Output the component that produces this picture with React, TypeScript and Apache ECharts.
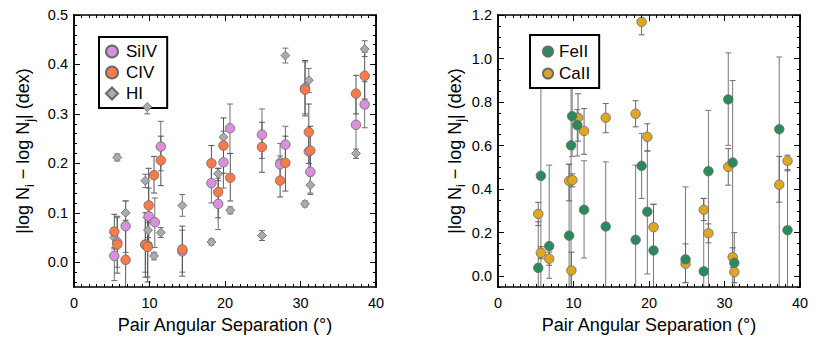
import React, { useEffect, useRef } from "react";
import * as echarts from "echarts";

const FONT = '"Liberation Sans", Arial, Helvetica, sans-serif';

// ---------- tick labels ----------
const leftYTicks = [0, 0.1, 0.2, 0.3, 0.4, 0.5];
const leftYMinor = [-0.04, -0.02, 0.02, 0.04, 0.06, 0.08, 0.12, 0.14, 0.16, 0.18, 0.22, 0.24, 0.26, 0.28, 0.32, 0.34, 0.36, 0.38, 0.42, 0.44, 0.46, 0.48];
const rightYTicks = [0, 0.2, 0.4, 0.6, 0.8, 1.0, 1.2];
const rightYMinor = [-0.05, 0.05, 0.1, 0.15, 0.25, 0.3, 0.35, 0.45, 0.5, 0.55, 0.65, 0.7, 0.75, 0.85, 0.9, 0.95, 1.05, 1.1, 1.15];

// ---------- left panel: SiIV ----------
const siivSep = [5.34, 5.73, 6.84, 9.45, 9.76, 9.89, 10.7, 11.5, 14.35, 18.2, 19.1, 19.8, 20.66, 24.9, 27.3, 28.0, 30.6, 31.1, 31.3, 37.35, 38.5];
const siivDiff = [0.013, 0.040, 0.073, 0.036, 0.033, 0.093, 0.081, 0.234, 0.022, 0.160, 0.118, 0.202, 0.271, 0.258, 0.198, 0.238, 0.352, 0.224, 0.183, 0.278, 0.319];
const siivLow = [-0.037, -0.010, 0.020, -0.020, -0.030, 0.040, 0.030, 0.185, -0.020, 0.120, 0.066, 0.150, 0.220, 0.210, 0.160, 0.200, 0.300, 0.180, 0.140, 0.210, 0.272];
const siivHigh = [0.063, 0.090, 0.124, 0.090, 0.100, 0.150, 0.130, 0.285, 0.065, 0.200, 0.170, 0.250, 0.320, 0.310, 0.240, 0.275, 0.405, 0.270, 0.225, 0.340, 0.365];

// ---------- left panel: CIV ----------
const civSep = [5.34, 5.73, 6.84, 9.45, 9.76, 9.89, 10.6, 11.5, 14.35, 18.2, 19.1, 19.8, 20.7, 24.9, 27.3, 28.0, 30.6, 31.1, 31.3, 37.35, 38.5];
const civDiff = [0.062, 0.036, 0.005, 0.035, 0.031, 0.115, 0.176, 0.206, 0.026, 0.200, 0.142, 0.236, 0.171, 0.233, 0.165, 0.201, 0.349, 0.263, 0.226, 0.341, 0.377];
const civLow = [0.027, -0.022, -0.078, -0.030, -0.040, 0.040, 0.140, 0.155, -0.028, 0.164, 0.090, 0.180, 0.124, 0.182, 0.132, 0.144, 0.296, 0.200, 0.175, 0.300, 0.330];
const civHigh = [0.097, 0.093, 0.085, 0.100, 0.100, 0.190, 0.214, 0.255, 0.073, 0.236, 0.190, 0.292, 0.220, 0.283, 0.200, 0.255, 0.408, 0.320, 0.275, 0.378, 0.425];

// ---------- left panel: HI ----------
const hiSep = [5.73, 5.34, 6.84, 9.45, 9.7, 9.8, 10.6, 11.5, 14.35, 18.2, 19.1, 19.8, 20.7, 24.9, 27.3, 28.0, 30.6, 31.1, 31.3, 37.35, 38.5];
const hiDiff = [0.212, 0.050, 0.100, 0.165, 0.314, 0.065, 0.013, 0.060, 0.115, 0.041, 0.179, 0.253, 0.105, 0.054, 0.205, 0.418, 0.118, 0.368, 0.156, 0.220, 0.431];
const hiLow = [0.205, 0.030, 0.076, 0.151, 0.300, 0.050, 0.005, 0.050, 0.093, 0.035, 0.165, 0.240, 0.098, 0.044, 0.195, 0.403, 0.112, 0.343, 0.137, 0.210, 0.416];
const hiHigh = [0.219, 0.070, 0.124, 0.178, 0.325, 0.080, 0.020, 0.070, 0.137, 0.047, 0.190, 0.265, 0.112, 0.064, 0.215, 0.433, 0.124, 0.392, 0.175, 0.229, 0.448];

// ---------- right panel: FeII ----------
const feSep = [5.33, 5.68, 6.78, 9.42, 9.68, 9.82, 10.5, 11.4, 14.27, 18.23, 19.02, 19.78, 20.6, 24.84, 27.25, 27.87, 30.5, 31.08, 31.3, 37.25, 38.35];
const feDiff = [0.038, 0.461, 0.138, 0.186, 0.601, 0.735, 0.694, 0.305, 0.228, 0.167, 0.507, 0.296, 0.118, 0.077, 0.022, 0.482, 0.812, 0.522, 0.061, 0.675, 0.211];
const feLow = [-0.1, -0.1, -0.01, -0.1, -0.1, 0.55, 0.552, 0.083, -0.1, -0.1, 0.357, 0.01, -0.1, -0.03, -0.1, -0.1, 0.601, -0.1, -0.1, -0.1, -0.1];
const feHigh = [0.25, 0.95, 0.51, 0.514, 0.95, 0.95, 0.765, 0.53, 0.525, 0.51, 0.656, 0.575, 0.33, 0.41, 0.357, 0.762, 1.026, 0.899, 0.2, 1.007, 0.49];

// ---------- right panel: CaII ----------
const caSep = [5.33, 5.68, 6.78, 9.42, 9.86, 9.72, 10.6, 11.4, 14.27, 18.23, 19.02, 19.78, 20.6, 24.84, 27.25, 27.87, 30.5, 31.08, 31.3, 37.25, 38.35];
const caDiff = [0.286, 0.107, 0.080, 0.438, 0.441, 0.026, 0.728, 0.667, 0.728, 0.746, 1.168, 0.640, 0.225, 0.057, 0.305, 0.197, 0.502, 0.087, 0.019, 0.420, 0.530];
const caLow = [0.232, 0.080, 0.050, 0.346, 0.410, -0.050, 0.620, 0.560, 0.659, 0.686, 1.109, 0.575, 0.120, -0.030, 0.255, 0.153, 0.418, 0.040, -0.030, 0.340, 0.484];
const caHigh = [0.339, 0.135, 0.110, 0.514, 0.470, 0.110, 0.838, 0.770, 0.793, 0.806, 1.230, 0.700, 0.330, 0.148, 0.357, 0.240, 0.586, 0.130, 0.070, 0.550, 0.556];

const LEFT_MIN = -0.05, LEFT_MAX = 0.5;
const RIGHT_MIN = -0.05, RIGHT_MAX = 1.2;

function errSeries(sep: number[], lo: number[], hi: number[], xi: number, yi: number, yMin: number, yMax: number, color: string) {
  return {
    type: "custom",
    xAxisIndex: xi,
    yAxisIndex: yi,
    z: 1,
    silent: true,
    data: sep.map((x, i) => [x, lo[i], hi[i]]),
    encode: { x: 0, y: [1, 2] },
    renderItem: (params: any, api: any) => {
      const x = api.value(0), l = api.value(1), h = api.value(2);
      const lc = Math.max(l, yMin), hc = Math.min(h, yMax);
      const p1 = api.coord([x, lc]);
      const p2 = api.coord([x, hc]);
      const st = { stroke: color, lineWidth: 1 };
      const children: any[] = [
        { type: "line", shape: { x1: p1[0], y1: p1[1], x2: p2[0], y2: p2[1] }, style: st },
      ];
      if (l >= yMin) children.push({ type: "line", shape: { x1: p1[0] - 3, y1: p1[1], x2: p1[0] + 3, y2: p1[1] }, style: st });
      if (h <= yMax) children.push({ type: "line", shape: { x1: p2[0] - 3, y1: p2[1], x2: p2[0] + 3, y2: p2[1] }, style: st });
      return { type: "group", children };
    },
  };
}

function scatter(name: string, sep: number[], diff: number[], xi: number, yi: number, color: string, symbol: string, size: number, z: number) {
  return {
    type: "scatter",
    name,
    xAxisIndex: xi,
    yAxisIndex: yi,
    z,
    symbol,
    symbolSize: size,
    itemStyle: { color, borderColor: "#6a6a6a", borderWidth: 0.8, opacity: 1 },
    data: sep.map((x, i) => [x, diff[i]]),
  };
}

const axisLineStyle = { color: "#000", width: 1.5 };

function xAxes(grid: number) {
  const base = {
    type: "value",
    gridIndex: grid,
    min: 0,
    max: 40,
    interval: 10,
    z: 20,
    splitLine: { show: false },
    axisLine: { show: true, onZero: false, lineStyle: axisLineStyle },
    axisTick: { show: true, inside: true, length: 6, lineStyle: { color: "#000", width: 1 } },
    minorTick: { show: true, splitNumber: 10, length: 3, lineStyle: { color: "#000", width: 1 } },
    minorSplitLine: { show: false },
  };
  return [
    {
      ...base,
      position: "bottom",
      axisLabel: { show: true, fontSize: 14.5, color: "#000", fontFamily: FONT, margin: 8 },
      name: "Pair Angular Separation (°)",
      nameLocation: "middle",
      nameGap: 29,
      nameTextStyle: { fontSize: 18, color: "#000", fontFamily: FONT },
    },
    { ...base, position: "top", axisLabel: { show: false } },
  ];
}

function yAxes(grid: number, min: number, max: number, major: number[], minor: number[], nameGap: number) {
  const base = {
    type: "value",
    gridIndex: grid,
    min,
    max,
    z: 20,
    splitLine: { show: false },
    axisLine: { show: true, onZero: false, lineStyle: axisLineStyle },
  };
  const majTick = { show: true, inside: true, length: 6, customValues: major, lineStyle: { color: "#000", width: 1 } };
  const minTick = { show: true, inside: true, length: 3, customValues: minor, lineStyle: { color: "#000", width: 1 } };
  return [
    {
      ...base,
      position: "left",
      axisTick: majTick,
      axisLabel: {
        show: true,
        customValues: major,
        formatter: (v: number) => v.toFixed(1),
        fontSize: 14.5,
        color: "#000",
        fontFamily: FONT,
        margin: 6,
      },
      name: "{a||log N}{s|i}{a| − log N}{s|j}{a|| (dex)}",
      nameLocation: "middle",
      nameRotate: 90,
      nameGap,
      nameTextStyle: {
        fontSize: 18,
        color: "#000",
        fontFamily: FONT,
        rich: {
          a: { fontSize: 18, fontFamily: FONT, color: "#000", lineHeight: 26, verticalAlign: "middle" },
          s: { fontSize: 12.5, fontFamily: FONT, color: "#000", lineHeight: 12, verticalAlign: "bottom" },
        },
      },
    },
    { ...base, position: "left", axisTick: minTick, axisLabel: { show: false } },
    { ...base, position: "right", axisTick: majTick, axisLabel: { show: false } },
    { ...base, position: "right", axisTick: minTick, axisLabel: { show: false } },
  ];
}

export default function App() {
  const ref = useRef<HTMLDivElement>(null);
  useEffect(() => {
    if (!ref.current) return;
    const chart = echarts.init(ref.current, null, { renderer: "svg" });
    const option: any = {
      animation: false,
      backgroundColor: "#fff",
      textStyle: { fontFamily: FONT },
      grid: [
        { left: 74, top: 15, width: 302, height: 272, containLabel: false },
        { left: 498, top: 15, width: 302, height: 272, containLabel: false },
      ],
      xAxis: [...xAxes(0), ...xAxes(1)],
      yAxis: [
        ...yAxes(0, LEFT_MIN, LEFT_MAX, leftYTicks, leftYMinor, 38),
        ...yAxes(1, RIGHT_MIN, RIGHT_MAX, rightYTicks, rightYMinor, 28),
      ],
      legend: [
        {
          data: [
            { name: "SiIV", icon: "circle" },
            { name: "CIV", icon: "circle" },
            { name: "HI", icon: "diamond" },
          ],
          orient: "vertical",
          left: 99,
          top: 37,
          padding: [6, 10, 6, 6],
          itemGap: 4,
          itemWidth: 12,
          itemHeight: 12,
          backgroundColor: "#fff",
          borderColor: "#000",
          borderWidth: 2,
          borderRadius: 0,
          selectedMode: false,
          textStyle: { fontSize: 17, color: "#000", fontFamily: FONT, padding: [0, 0, 0, 3] },
          z: 2,
        },
        {
          data: [
            { name: "FeII", icon: "circle" },
            { name: "CaII", icon: "circle" },
          ],
          orient: "vertical",
          left: 530,
          top: 35,
          padding: [8, 9, 6, 12],
          itemGap: 5,
          itemWidth: 10,
          itemHeight: 10,
          backgroundColor: "#fff",
          borderColor: "#000",
          borderWidth: 2,
          borderRadius: 0,
          selectedMode: false,
          textStyle: { fontSize: 17, color: "#000", fontFamily: FONT, padding: [0, 0, 0, 1] },
          z: 2,
        },
      ],
      series: [
        errSeries(hiSep, hiLow, hiHigh, 0, 0, LEFT_MIN, LEFT_MAX, "#6f6f6f"),
        errSeries(siivSep, siivLow, siivHigh, 0, 0, LEFT_MIN, LEFT_MAX, "#6f6f6f"),
        errSeries(civSep, civLow, civHigh, 0, 0, LEFT_MIN, LEFT_MAX, "#555"),
        scatter("HI", hiSep, hiDiff, 0, 0, "#ababab", "diamond", 9, 3),
        scatter("SiIV", siivSep, siivDiff, 0, 0, "#d98fdc", "circle", 9.5, 4),
        scatter("CIV", civSep, civDiff, 0, 0, "#fb7a4a", "circle", 9.5, 5),
        errSeries(feSep, feLow, feHigh, 2, 4, RIGHT_MIN, RIGHT_MAX, "#777"),
        errSeries(caSep, caLow, caHigh, 2, 4, RIGHT_MIN, RIGHT_MAX, "#666"),
        scatter("CaII", caSep, caDiff, 2, 4, "#dea622", "circle", 9.5, 4),
        scatter("FeII", feSep, feDiff, 2, 4, "#2b8a5b", "circle", 9.5, 5),
      ],
    };
    chart.setOption(option);
    return () => chart.dispose();
  }, []);
  return <div ref={ref} style={{ position: "absolute", left: 0, top: 0, width: 831, height: 352 }} />;
}
